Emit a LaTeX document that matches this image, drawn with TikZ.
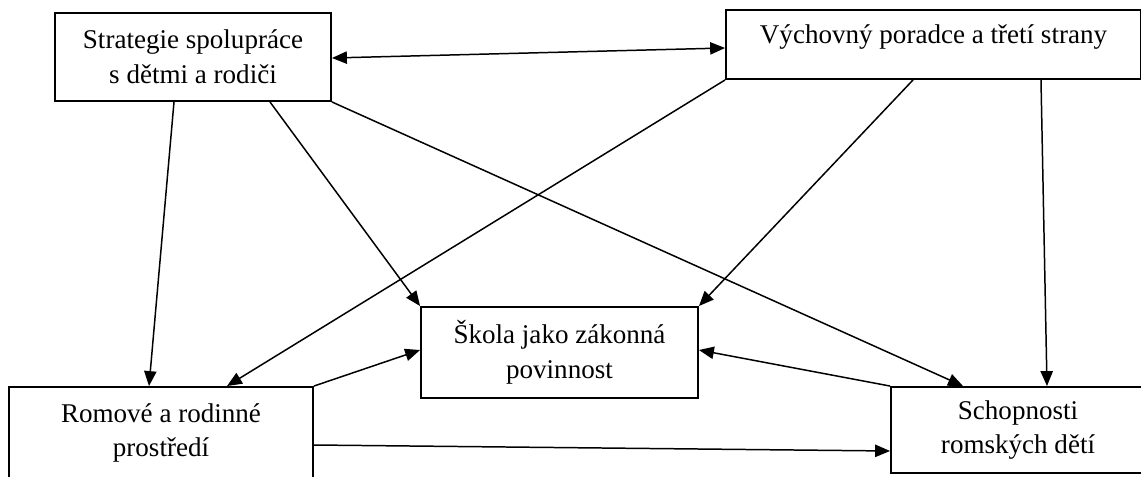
\documentclass[tikz,border=0pt]{standalone}
\usepackage{fontspec}
\setmainfont{Liberation Serif}
\usetikzlibrary{arrows.meta}

\begin{document}
\begin{tikzpicture}[x=0.02cm,y=-0.02cm,line width=0.85pt,>={Triangle[length=8.5pt,width=7pt]},
        topic node/.style={rectangle,draw,line width=1.1pt,align=center,inner sep=0pt,font=\fontsize{15.4}{19.8}\selectfont}]
                \useasboundingbox (0,0) rectangle (1141,476);

                \node[topic node, minimum width=5.52cm, minimum height=1.76cm] at (193, 57) (strat) {Strategie spolupráce\\ s dětmi a rodiči};

                \node[topic node, minimum width=8.3cm, minimum height=1.38cm, text height=10pt, text depth=11.7pt] at (933.5, 44.5) (porad) {Výchovný poradce a třetí strany};

                \node[topic node, minimum width=5.54cm, minimum height=1.82cm] at (559.5, 352.5) (skola) {Škola jako zákonná\\ povinnost};

                \node[topic node, minimum width=6.08cm, minimum height=1.84cm] at (161, 433) (romove) {Romové a rodinné\\ prostředí};

                \node[topic node, minimum width=5.08cm, minimum height=1.72cm] at (1018, 430) (schop) {Schopnosti\\ romských dětí};

                \path[->]
					([yshift=-0.02cm]strat.east) edge[<->] ([yshift=-0.07cm]porad.west)
					([xshift=-0.38cm]strat.south) edge ([xshift=-0.24cm]romove.north)
					([xshift=1.54cm]strat.south) edge (skola.north west)
					(strat.south east) edge ([xshift=-1.1cm]schop.north)
					(porad.south west) edge ([xshift=1.32cm]romove.north)
					([xshift=-0.41cm]porad.south) edge (skola.north east)
					([xshift=2.15cm]porad.south) edge ([xshift=0.58cm]schop.north)
					(romove.north east) edge ([yshift=0.05cm]skola.west)
					(schop.north west) edge ([yshift=0.05cm]skola.east)
					([yshift=-0.24cm]romove.east) edge ([yshift=-0.42cm]schop.west)
                    ;
            \end{tikzpicture}
\end{document}
